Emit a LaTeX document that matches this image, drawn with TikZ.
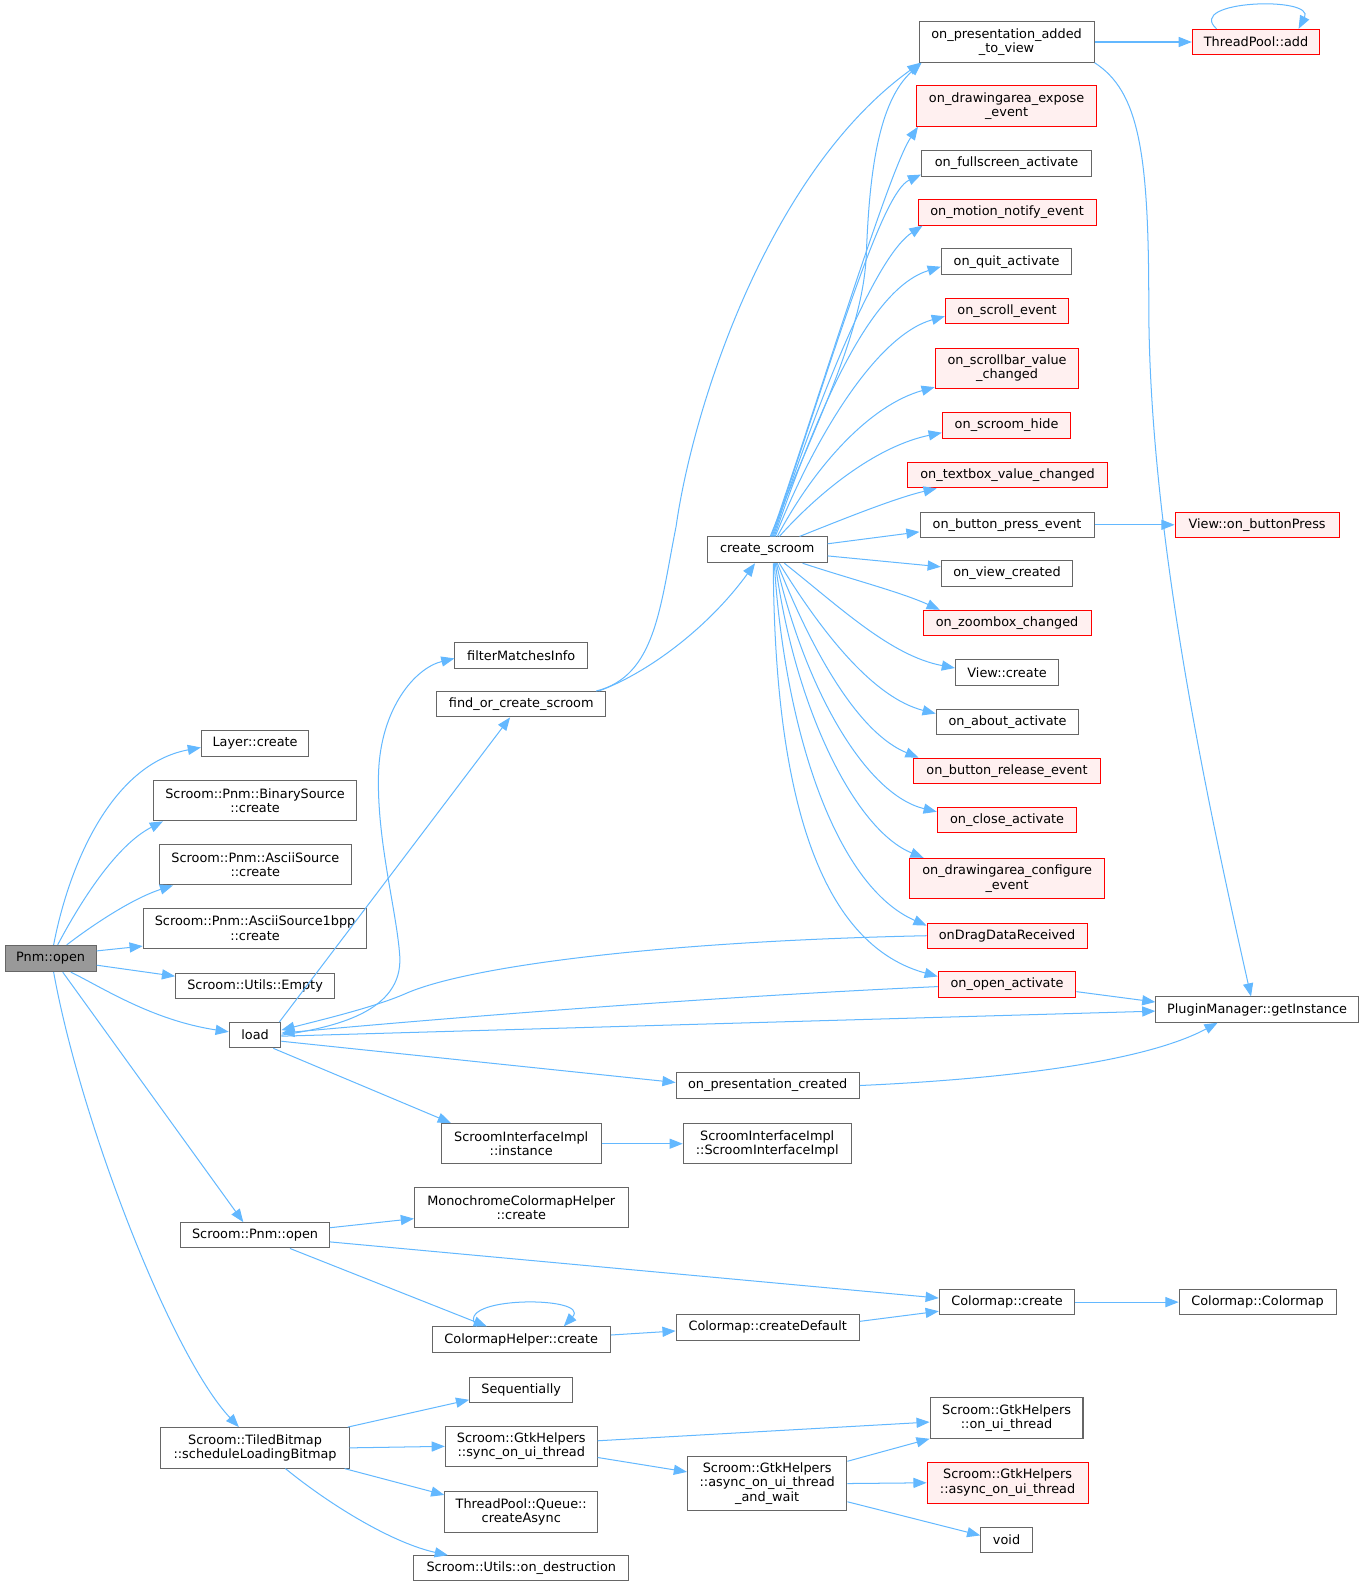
\documentclass[tikz,border=0pt]{standalone}
\usepackage{fontspec}
\setmainfont{DejaVu Sans}
\usetikzlibrary{arrows.meta}
\definecolor{edgeblue}{HTML}{63B8FF}
\definecolor{boxgray}{HTML}{666666}
\definecolor{redfill}{HTML}{FFF0F0}
\definecolor{nodegray}{HTML}{999999}
\newcommand\dgfont{\fontsize{12.7}{14.2}\selectfont}
\tikzset{
  box/.style={draw=boxgray, fill=white, line width=1pt, inner sep=0pt, align=center, font=\dgfont},
  rbox/.style={box, draw=red, fill=redfill},
  gbox/.style={box, fill=nodegray},
  edge/.style={draw=edgeblue, line width=1pt, -{Triangle[length=13pt,width=10pt]}},
  sz/.style 2 args={minimum width=#1pt, minimum height=#2pt},
}
\begin{document}
\begin{tikzpicture}[x=1pt,y=-1pt]
\useasboundingbox (0,0) rectangle (1347,1566);
% left column
\node[gbox, sz={90}{26}] (pn) at (50,947) {Pnm::open};
\node[box, sz={106}{25}] (layer) at (252,734.5) {Layer::create};
\node[box, sz={201}{40}] (binsrc) at (252,791) {Scroom::Pnm::BinarySource\\::create};
\node[box, sz={189.5}{40}] (ascsrc) at (252.25,854.25) {Scroom::Pnm::AsciiSource\\::create};
\node[box, sz={221}{40}] (asc1) at (252,917.25) {Scroom::Pnm::AsciiSource1bpp\\::create};
\node[box, sz={157}{25}] (empty) at (252,974.25) {Scroom::Utils::Empty};
\node[box, sz={51}{25}] (load) at (252,1022.75) {load};
\node[box, sz={147}{25}] (spn) at (252,1220.5) {Scroom::Pnm::open};
\node[box, sz={186}{40}] (tiled) at (252,1430.5) {Scroom::TiledBitmap\\::scheduleLoadingBitmap};
% second column
\node[box, sz={131}{25}] (filter) at (515,647.5) {filterMatchesInfo};
\node[box, sz={167}{25}] (focs) at (515,695.75) {find\_or\_create\_scroom};
\node[box, sz={158}{40}] (sii) at (515,1130) {ScroomInterfaceImpl\\::instance};
\node[box, sz={211}{40}] (mono) at (515,1193) {MonochromeColormapHelper\\::create};
\node[box, sz={176}{25}] (cmh) at (515,1323.5) {ColormapHelper::create};
\node[box, sz={102}{25}] (seq) at (515,1373.5) {Sequentially};
\node[box, sz={150}{40}] (sync) at (515,1429) {Scroom::GtkHelpers\\::sync\_on\_ui\_thread};
\node[box, sz={151}{40}] (qasync) at (515,1494) {ThreadPool::Queue::\\createAsync};
\node[box, sz={212}{25}] (ondes) at (515,1549.5) {Scroom::Utils::on\_destruction};
% third column
\node[box, sz={118.5}{25.5}] (cs) at (758,543.25) {create\_scroom};
\node[box, sz={181}{25}] (opc) at (758.5,1072.5) {on\_presentation\_created};
\node[box, sz={166}{40}] (siictor) at (758,1130) {ScroomInterfaceImpl\\::ScroomInterfaceImpl};
\node[box, sz={181}{25}] (cmdef) at (758.5,1311.5) {Colormap::createDefault};
\node[box, sz={157.5}{54}] (aw) at (758,1465.75) {Scroom::GtkHelpers\\::async\_on\_ui\_thread\\\_and\_wait};
% fourth column
\node[box, sz={173}{40}] (opav) at (994.5,41.5) {on\_presentation\_added\\\_to\_view};
\node[rbox, sz={178}{40}] (expose) at (994.5,104.75) {on\_drawingarea\_expose\\\_event};
\node[box, sz={168}{25}] (fullscr) at (994.5,161.5) {on\_fullscreen\_activate};
\node[rbox, sz={176}{25}] (motion) at (995,210) {on\_motion\_notify\_event};
\node[box, sz={129}{25}] (quit) at (994.5,258.5) {on\_quit\_activate};
\node[rbox, sz={122}{25}] (scroll) at (995,307.5) {on\_scroll\_event};
\node[rbox, sz={142}{40}] (scrollbar) at (995,364) {on\_scrollbar\_value\\\_changed};
\node[rbox, sz={127}{25}] (hide) at (994.5,420.5) {on\_scroom\_hide};
\node[rbox, sz={197}{25}] (textbox) at (995.5,469.5) {on\_textbox\_value\_changed};
\node[box, sz={172}{25}] (bpress) at (995,518.5) {on\_button\_press\_event};
\node[box, sz={130}{25}] (viewcr) at (995,566.5) {on\_view\_created};
\node[rbox, sz={166}{25}] (zoombox) at (995,615.5) {on\_zoombox\_changed};
\node[box, sz={102}{25}] (vcreate) at (995,664.5) {View::create};
\node[box, sz={141}{25}] (about) at (995.5,713) {on\_about\_activate};
\node[rbox, sz={184}{25}] (brel) at (995,761.5) {on\_button\_release\_event};
\node[rbox, sz={138}{25}] (close) at (995,810) {on\_close\_activate};
\node[rbox, sz={192}{40}] (config) at (995,868) {on\_drawingarea\_configure\\\_event};
\node[rbox, sz={158}{25}] (drag) at (995,924.5) {onDragDataReceived};
\node[rbox, sz={136}{25.5}] (open) at (995,972.75) {on\_open\_activate};
\node[box, sz={134}{25}] (cmcreate) at (995,1286.5) {Colormap::create};
\node[box, sz={151}{40}] (onui) at (994.5,1401) {Scroom::GtkHelpers\\::on\_ui\_thread};
\node[rbox, sz={159}{40}] (asyncui) at (995.5,1465) {Scroom::GtkHelpers\\::async\_on\_ui\_thread};
\node[box, sz={51}{25}] (void) at (994.5,1521.5) {void};
% far right
\node[rbox, sz={126}{25}] (tpadd) at (1241,41.5) {ThreadPool::add};
\node[rbox, sz={162}{25}] (vobp) at (1242,518.5) {View::on\_buttonPress};
\node[box, sz={200}{25}] (pm) at (1242,997.5) {PluginManager::getInstance};
\node[box, sz={155}{25}] (cmctor) at (1242.5,1286.5) {Colormap::Colormap};

% ---- edges from Pnm::open
\draw[edge] ([xshift=3pt]pn.north) .. controls (68,855) and (110,755) .. ([yshift=-4pt]layer.west);
\draw[edge] ([xshift=7pt]pn.north) .. controls (80,890) and (115,835) .. ([xshift=10pt]binsrc.south west);
\draw[edge] ([xshift=16pt]pn.north) .. controls (90,915) and (130,888) .. ([xshift=14pt]ascsrc.south west);
\draw[edge] ([yshift=7.5pt]pn.east) -- ([yshift=-17.5pt]asc1.west);
\draw[edge] ([yshift=-6.6pt]pn.east) -- ([yshift=9.75pt]empty.west);
\draw[edge] ([xshift=20pt]pn.south) .. controls (100,975) and (150,1008) .. ([yshift=3.3pt]load.west);
\draw[edge] ([xshift=12pt]pn.south) -- ([xshift=-11.6pt]spn.north);
\draw[edge] ([xshift=3pt]pn.south) .. controls (80,1110) and (170,1340) .. ([xshift=-16pt]tiled.north);

% ---- edges from load
\draw[edge] (load.east) .. controls (330,1015) and (398,1000) .. (395,945) .. controls (392,900) and (372,830) .. (374,764) .. controls (376,700) and (410,660) .. ([yshift=-3pt]filter.west);
\draw[edge] ([xshift=-2pt]load.north east) -- ([xshift=-11pt]focs.south);
\draw[edge] ([yshift=-1pt]load.east) -- ([yshift=-1.5pt]pm.west);
\draw[edge] ([yshift=-6pt]load.east) -- ([yshift=3pt]opc.west);
\draw[edge] ([xshift=18pt]load.south) -- ([xshift=10pt]sii.north west);

% ---- incoming to load
\draw[edge] (drag.west) .. controls (650,930) and (460,955) .. (400,982) .. controls (370,995) and (320,1007) .. ([yshift=5pt]load.east);
\draw[edge] ([yshift=-2pt]open.west) .. controls (700,985) and (450,1005) .. ([yshift=2pt]load.east);
\draw[edge] ([yshift=-7pt]open.east) -- ([yshift=7.5pt]pm.west);

% ---- find_or_create_scroom
\draw[edge] ([xshift=-7.5pt]focs.north east) .. controls (640,665) and (700,620) .. ([xshift=-12pt]cs.south);
\draw[edge] ([xshift=-10pt]focs.north east) .. controls (648,668) and (652,600) .. (668,520) .. controls (685,400) and (760,170) .. ([xshift=2pt]opav.south west);

% ---- create_scroom fan
\draw[edge] ([xshift=3pt]cs.north) .. controls (805,420) and (853,330) .. (856,250) .. controls (859,170) and (868,100) .. ([xshift=3pt]opav.south west);
\draw[edge] ([xshift=4pt]cs.north) .. controls (820,360) and (880,165) .. ([xshift=2pt]expose.south west);
\draw[edge] ([xshift=5pt]cs.north) .. controls (830,330) and (872,190) .. ([yshift=2pt]fullscr.south west);
\draw[edge] ([xshift=6pt]cs.north) .. controls (820,360) and (870,250) .. ([xshift=5pt]motion.south west);
\draw[edge] ([xshift=7pt]cs.north) .. controls (810,400) and (860,285) .. ([yshift=-5pt]quit.west);
\draw[edge] ([xshift=8pt]cs.north) .. controls (810,420) and (870,330) .. ([yshift=-5pt]scroll.west);
\draw[edge] ([xshift=10pt]cs.north) .. controls (805,460) and (860,400) .. ([yshift=2pt]scrollbar.south west);
\draw[edge] ([xshift=12pt]cs.north) .. controls (815,480) and (870,440) .. ([yshift=-7pt]hide.west);
\draw[edge] ([xshift=32pt]cs.north) .. controls (835,512) and (885,492) .. ([xshift=29pt]textbox.south west);
\draw[edge] ([yshift=6pt]cs.east) -- ([yshift=-7pt]bpress.west);
\draw[edge] ([yshift=-6pt]cs.east) -- ([yshift=6.5pt]viewcr.west);
\draw[edge] ([xshift=35pt]cs.south) .. controls (840,572) and (890,585) .. ([xshift=17pt]zoombox.north west);
\draw[edge] ([xshift=17pt]cs.south) .. controls (830,600) and (880,648) .. ([yshift=4.5pt]vcreate.west);
\draw[edge] ([xshift=12pt]cs.south) .. controls (815,630) and (865,690) .. ([yshift=8pt]about.west);
\draw[edge] ([xshift=10pt]cs.south) .. controls (805,650) and (850,725) .. ([xshift=5pt]brel.north west);
\draw[edge] ([xshift=9pt]cs.south) .. controls (795,680) and (855,785) .. ([yshift=8pt]close.west);
\draw[edge] ([xshift=8pt]cs.south) .. controls (785,700) and (845,820) .. ([xshift=14pt]config.north west);
\draw[edge] ([xshift=7pt]cs.south) .. controls (775,720) and (825,875) .. ([yshift=10pt]drag.west);
\draw[edge] ([xshift=6pt]cs.south) .. controls (765,760) and (800,930) .. ([yshift=8pt]open.west);

% ---- right side
\draw[edge] (opav.east) -- (tpadd.west);
\draw[edge] (opav.south east) .. controls (1125,90) and (1135,150) .. (1135,300) .. controls (1135,520) and (1190,780) .. ([xshift=-6pt]pm.north);
\draw[edge] ([xshift=-39pt]tpadd.north) .. controls (1170,0) and (1300,-4) .. ([xshift=42pt]tpadd.north);
\draw[edge] (bpress.east) -- (vobp.west);
\draw[edge] (opc.east) .. controls (950,1068) and (1120,1055) .. ([xshift=-39pt]pm.south);

% ---- lower part
\draw[edge] (sii.east) -- (siictor.west);
\draw[edge] ([yshift=7.5pt]spn.east) -- ([yshift=-11pt]mono.west);
\draw[edge] ([yshift=-6.5pt]spn.east) -- ([yshift=4pt]cmcreate.west);
\draw[edge] ([xshift=34.5pt]spn.south) -- ([xshift=-34pt]cmh.north);
\draw[edge] ([xshift=-44pt]cmh.north) .. controls (445,1280) and (585,1280) .. ([xshift=42pt]cmh.north);
\draw[edge] ([yshift=4.5pt]cmh.east) -- ([yshift=-3.5pt]cmdef.west);
\draw[edge] ([yshift=6pt]cmdef.east) -- ([yshift=-9pt]cmcreate.west);
\draw[edge] (cmcreate.east) -- (cmctor.west);
\draw[edge] ([xshift=-2pt]tiled.north east) -- ([yshift=-9.5pt]seq.west);
\draw[edge] (tiled.east) -- (sync.west);
\draw[edge] ([xshift=-5pt]tiled.south east) -- ([yshift=17pt]qasync.west);
\draw[edge] ([xshift=30pt]tiled.south) .. controls (330,1490) and (390,1525) .. ([xshift=34pt]ondes.north west);
\draw[edge] ([yshift=5.5pt]sync.east) -- ([yshift=-4pt]onui.west);
\draw[edge] ([yshift=-11pt]sync.east) -- ([yshift=11.5pt]aw.west);
\draw[edge] ([yshift=22pt]aw.east) -- (onui.south west);
\draw[edge] (aw.east) -- (asyncui.west);
\draw[edge] ([yshift=-18pt]aw.east) -- ([yshift=4.5pt]void.west);
\end{tikzpicture}
\end{document}
